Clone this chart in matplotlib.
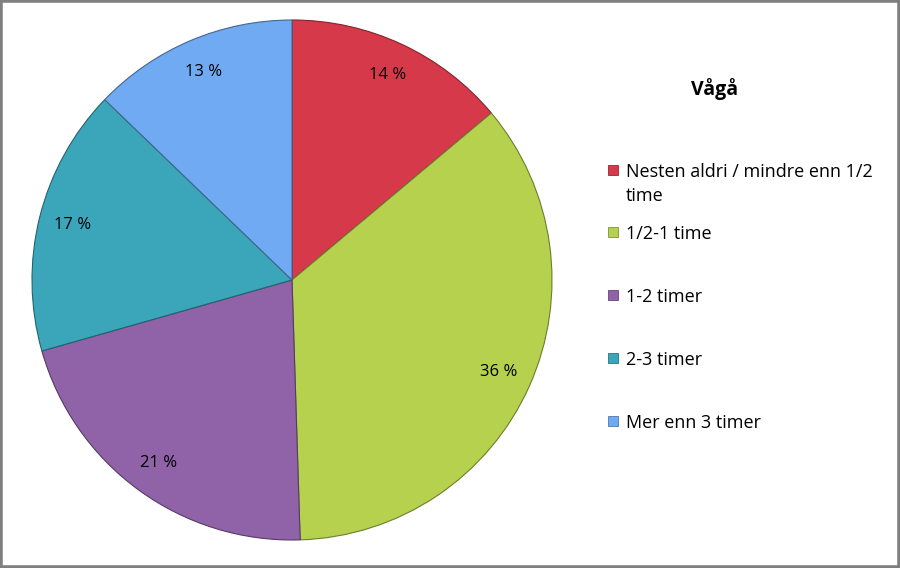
import matplotlib.pyplot as plt
from matplotlib.patches import Rectangle
from matplotlib.colors import to_rgb

plt.rcParams['font.family'] = ['Open Sans', 'DejaVu Sans']

title = "Vågå"
categories = ["Nesten aldri / mindre enn 1/2\ntime", "1/2-1 time", "1-2 timer",
              "2-3 timer", "Mer enn 3 timer"]
values = [13.9, 35.6, 21.1, 16.6, 12.8]
colors = ["#D63A4A", "#B5D14E", "#9062A8", "#3BA6B9", "#70AAF2"]

W, H = 900, 568
fig = plt.figure(figsize=(W / 100, H / 100), dpi=100)

# pie area in pixels: centre (292, 280), radius 260
cx, cy, r = 292, 280, 260
ax = fig.add_axes([(cx - r) / W, (H - cy - r) / H, 2 * r / W, 2 * r / H])
edges = [tuple(c * 0.6 for c in to_rgb(col)) for col in colors]
wedges, texts = ax.pie(values, colors=colors, startangle=90, counterclock=False,
                       radius=1, labels=[f"{v:.0f} %" for v in values],
                       labeldistance=0.87,
                       textprops=dict(fontsize=12, color='black'),
                       wedgeprops=dict(linewidth=0.8))
for w, e in zip(wedges, edges):
    w.set_edgecolor(e)
for t in texts:
    t.set_ha('center')
    t.set_va('center')
ax.set_xlim(-1, 1)
ax.set_ylim(-1, 1)
ax.axis('off')

# title and legend on the right
fig.text(715 / W, 1 - 89 / H, title, ha='center', va='center',
         fontsize=14, fontweight='bold')
ys = [170, 232, 295, 358, 421]
for cat, col, y in zip(categories, colors, ys):
    fig.patches.append(Rectangle((608 / W, 1 - (y + 5) / H), 10 / W, 10 / H,
                                 transform=fig.transFigure, facecolor=col,
                                 edgecolor=tuple(c * 0.7 for c in to_rgb(col)),
                                 linewidth=0.6))
    fig.text(626 / W, 1 - (y - 7) / H, cat, ha='left', va='top',
             fontsize=13, linespacing=1.4)

# grey frame round the chart
fig.patches.append(Rectangle((0, 0), 1, 1, transform=fig.transFigure,
                             fill=False, edgecolor='#7f7f7f', linewidth=4))

fig.savefig("out.png", dpi=100)
